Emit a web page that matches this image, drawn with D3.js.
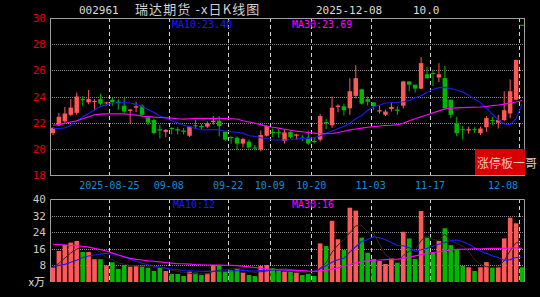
<!DOCTYPE html>
<html>
<head>
<meta charset="utf-8">
<script src="https://cdn.jsdelivr.net/npm/d3@7"></script>
<style>
  body { margin: 0; background: #000; }
  svg { display: block; }
  text { font-family: 'DejaVu Sans Mono', monospace; }
</style>
</head>
<body>
<div id="kline"></div>
<script>
var dates = [
  '2025-08-11', '2025-08-12', '2025-08-13', '2025-08-14', '2025-08-15', '2025-08-18', '2025-08-19', '2025-08-20',
  '2025-08-21', '2025-08-22', '2025-08-25', '2025-08-26', '2025-08-27', '2025-08-28', '2025-08-29', '2025-09-01',
  '2025-09-02', '2025-09-03', '2025-09-04', '2025-09-05', '2025-09-08', '2025-09-09', '2025-09-10', '2025-09-11',
  '2025-09-12', '2025-09-15', '2025-09-16', '2025-09-17', '2025-09-18', '2025-09-19', '2025-09-22', '2025-09-23',
  '2025-09-24', '2025-09-25', '2025-09-26', '2025-09-29', '2025-09-30', '2025-10-09', '2025-10-10', '2025-10-13',
  '2025-10-14', '2025-10-15', '2025-10-16', '2025-10-17', '2025-10-20', '2025-10-21', '2025-10-22', '2025-10-23',
  '2025-10-24', '2025-10-27', '2025-10-28', '2025-10-29', '2025-10-30', '2025-10-31', '2025-11-03', '2025-11-04',
  '2025-11-05', '2025-11-06', '2025-11-07', '2025-11-10', '2025-11-11', '2025-11-12', '2025-11-13', '2025-11-14',
  '2025-11-17', '2025-11-18', '2025-11-19', '2025-11-20', '2025-11-21', '2025-11-24', '2025-11-25', '2025-11-26',
  '2025-11-27', '2025-11-28', '2025-12-01', '2025-12-02', '2025-12-03', '2025-12-04', '2025-12-05', '2025-12-08'
]
var open = [
  21.2, 21.8, 22.1, 22.6, 22.75, 23.8, 23.55, 23.6, 23.8, 23.5, 23.75, 23.6, 23.3, 22.9, 23.15, 23.3,
  22.4, 22.2, 21.5, 21.3, 21.6, 21.5, 21.4, 21.0, 21.8, 21.75, 21.7, 22.05, 22.15, 21.3, 20.9, 20.85,
  20.4, 20.55, 20.1, 19.95, 21.0, 21.3, 21.3, 20.6, 21.3, 21.0, 20.85, 20.85, 20.6, 20.7, 22.05, 21.8,
  23.2, 23.25, 23.1, 24.05, 24.55, 23.8, 23.55, 22.85, 22.6, 23.05, 23.0, 23.3, 25.15, 24.9, 24.6, 25.7,
  25.8, 25.45, 25.4, 23.75, 21.95, 21.5, 21.4, 21.5, 21.2, 21.65, 22.2, 22.0, 22.2, 22.7, 23.75, 29.48
]
var high = [
  21.65, 22.75, 23.2, 23.8, 24.3, 24.05, 24.5, 23.8, 24.2, 23.6, 23.9, 23.8, 23.9, 23.05, 23.6, 23.4,
  22.5, 22.3, 21.85, 21.5, 21.65, 21.65, 21.6, 21.75, 22.2, 21.9, 22.1, 22.5, 22.5, 21.35, 20.95, 20.95,
  20.85, 20.7, 20.3, 21.4, 21.8, 21.55, 21.5, 21.5, 21.35, 21.15, 21.05, 21.4, 20.9, 22.65, 22.3, 24.0,
  23.4, 23.45, 25.4, 26.4, 24.6, 24.0, 23.55, 23.3, 23.0, 23.55, 23.25, 25.2, 25.15, 24.9, 27.0, 26.25,
  26.05, 26.55, 26.35, 23.75, 22.45, 21.75, 21.7, 21.65, 21.7, 22.5, 22.45, 22.6, 24.4, 25.3, 26.8, 29.48
]
var low = [
  21.05, 21.75, 22.0, 22.5, 22.6, 23.3, 23.4, 23.0, 23.3, 23.3, 23.3, 23.0, 22.7, 21.9, 22.8, 22.5,
  21.8, 21.1, 20.8, 20.9, 21.1, 21.1, 21.1, 20.9, 21.5, 21.5, 21.6, 21.85, 20.95, 20.6, 20.4, 19.9,
  20.1, 20.0, 19.9, 19.8, 20.95, 20.9, 20.85, 20.4, 20.8, 20.7, 20.6, 20.3, 20.4, 20.55, 21.5, 21.6,
  22.8, 22.55, 22.6, 23.85, 23.4, 23.3, 22.95, 22.7, 22.5, 22.85, 22.6, 23.1, 24.4, 24.3, 24.55, 25.35,
  24.8, 25.1, 23.0, 22.35, 20.95, 20.7, 21.15, 21.2, 21.05, 21.3, 21.8, 21.55, 22.1, 22.35, 23.7, 29.48
]
var close = [
  21.6, 22.45, 22.7, 23.15, 24.0, 23.75, 23.8, 23.65, 23.45, 23.55, 23.55, 23.5, 22.85, 23.0, 23.25, 22.6,
  22.0, 21.2, 21.4, 21.45, 21.5, 21.4, 21.3, 21.7, 21.75, 21.65, 21.95, 22.15, 21.75, 20.7, 20.85, 20.4,
  20.75, 20.1, 20.05, 21.05, 21.75, 21.2, 21.25, 21.25, 20.9, 21.1, 20.8, 20.4, 20.55, 22.5, 21.95, 23.15,
  23.3, 22.95, 24.4, 25.4, 23.45, 23.6, 23.25, 22.95, 22.85, 23.2, 22.9, 25.15, 24.9, 24.6, 26.55, 25.4,
  25.75, 25.7, 23.1, 22.6, 21.2, 21.45, 21.5, 21.45, 21.55, 22.35, 22.15, 22.2, 22.95, 24.4, 26.8, 29.48
]
var ma10 = [
  21.55, 21.55, 21.6, 21.8, 22.1, 22.45, 22.7, 22.97, 23.23, 23.36, 23.5, 23.5, 23.54, 23.5, 23.4, 23.23,
  23.0, 22.77, 22.5, 22.33, 22.15, 22.0, 21.8, 21.7, 21.56, 21.47, 21.45, 21.48, 21.45, 21.35, 21.3, 21.25,
  21.2, 21.0, 20.95, 20.85, 20.8, 20.7, 20.67, 20.67, 20.7, 20.75, 20.78, 20.8, 20.85, 21.0, 21.2, 21.35,
  21.55, 21.7, 21.95, 22.3, 22.55, 22.95, 23.2, 23.35, 23.5, 23.52, 23.55, 23.6, 23.7, 23.9, 24.05, 24.3,
  24.55, 24.68, 24.7, 24.6, 24.5, 24.35, 24.1, 23.8, 23.55, 23.1, 22.65, 22.2, 21.9, 21.85, 22.3, 23.4
]
var ma30 = [
  21.8, 21.85, 21.95, 22.05, 22.15, 22.3, 22.45, 22.6, 22.65, 22.67, 22.67, 22.67, 22.67, 22.62, 22.58, 22.5,
  22.46, 22.42, 22.4, 22.38, 22.35, 22.3, 22.27, 22.3, 22.33, 22.33, 22.33, 22.33, 22.33, 22.32, 22.3, 22.28,
  22.15, 22.05, 21.95, 21.85, 21.72, 21.65, 21.58, 21.5, 21.42, 21.35, 21.3, 21.25, 21.2, 21.15, 21.15, 21.17,
  21.25, 21.35, 21.45, 21.52, 21.58, 21.65, 21.7, 21.75, 21.78, 21.8, 21.85, 21.95, 22.15, 22.3, 22.45, 22.6,
  22.75, 22.9, 23.05, 23.1, 23.13, 23.15, 23.17, 23.18, 23.2, 23.23, 23.3, 23.35, 23.42, 23.5, 23.58, 23.69
]
var volume = [
  7, 15, 18, 19, 19.8, 14.5, 14.5, 11, 11, 8, 9.5, 6.3, 8.2, 7.4, 7.7, 8,
  6.9, 5.3, 6.9, 5.3, 3.9, 3.9, 2.9, 5, 4.5, 3.4, 4.2, 8.2, 8.2, 5, 5.8, 6.3,
  4.5, 3.4, 2.9, 7.7, 8.2, 6.6, 5.5, 5, 5, 4.5, 3.4, 3.9, 2.9, 18.6, 17.3, 29.5,
  20.6, 15.4, 35.8, 34.4, 21.4, 14.1, 11.1, 10.1, 8.7, 11.4, 9.3, 24.2, 21, 11.1, 34.2, 21.4,
  14.1, 19.8, 25.9, 17.8, 15.4, 7.7, 7.1, 5.3, 7.1, 9.6, 6.9, 7.1, 21, 31, 28.3, 7.1
]
var volMa5 = [
  7, 9, 11.5, 14, 15.8, 17.3, 17.2, 15.8, 14.2, 11.8, 10.8, 9.2, 8.6, 7.9, 7.8, 7.5,
  7.6, 7.1, 7.0, 6.5, 5.7, 5.1, 4.6, 4.2, 4.0, 3.9, 4.0, 5.1, 5.7, 5.8, 6.3, 6.7,
  6.0, 5.0, 4.6, 5.0, 5.3, 5.8, 6.2, 6.6, 6.1, 5.3, 4.7, 4.4, 3.9, 6.7, 9.2, 14.4,
  17.8, 20.3, 23.7, 27.1, 27.1, 24.2, 23.4, 18.2, 13.1, 11.1, 10.1, 12.7, 14.9, 15.4, 20.0, 22.4,
  20.4, 20.1, 23.1, 19.8, 18.6, 17.3, 14.8, 10.7, 8.5, 7.4, 7.2, 7.2, 10.3, 15.1, 18.9, 18.9
]
var volMa10 = [
  7.5, 8, 8.5, 9.5, 10.5, 11.8, 12.5, 13, 13.5, 13.8, 13.5, 13, 12, 11, 10, 9,
  8.3, 7.7, 7.2, 6.7, 6.3, 6.0, 5.5, 5.4, 5.3, 5.2, 5.1, 5.1, 5.2, 5.3, 5.3, 5.4,
  5.5, 5.4, 5.3, 5.5, 5.7, 5.8, 5.8, 5.7, 5.6, 5.5, 5.3, 5.2, 5.1, 6.3, 7.8, 9.5,
  10.7, 11.4, 14.5, 17, 19.5, 20.5, 21.8, 21.3, 20.4, 19, 17.6, 17.5, 16.5, 14.8, 15.5, 16.3,
  17.2, 18.2, 19, 20, 20.2, 19.5, 18.2, 16.5, 14.8, 13.8, 12.6, 11.8, 10.4, 10.8, 11.8, 12
]
var volMa30 = [
  18.2, 18, 17.8, 17.6, 17.4, 17.2, 16.8, 16.2, 15.6, 14.9, 14.0, 13.0, 12.2, 11.4, 10.9, 10.6,
  10.2, 10.0, 9.7, 9.4, 9.1, 8.8, 8.8, 8.6, 8.4, 8.3, 8.2, 8.2, 8.2, 8.1, 8.1, 7.9,
  7.6, 7.3, 7.0, 6.6, 6.3, 6.0, 5.9, 5.8, 5.7, 5.6, 5.5, 5.3, 5.2, 5.3, 5.6, 6.2,
  6.8, 7.6, 8.4, 9.2, 9.8, 10.2, 10.5, 10.6, 10.8, 10.9, 11.0, 11.4, 12.0, 12.6, 13.2, 13.8,
  14.2, 14.6, 15.0, 15.4, 15.7, 15.8, 15.9, 16.0, 16.0, 16.1, 16.2, 16.2, 16.3, 16.4, 16.5, 16.2
]
var priceTicks = [18, 20, 22, 24, 26, 28, 30]
var volTicks = [8, 16, 24, 32, 40]
var dateLabels = ['2025-08-25', '2025-09-08', '2025-09-22', '2025-10-09', '2025-10-20', '2025-11-03', '2025-11-17', '2025-12-08']

var RED = '#ff5858'
var GREEN = '#00b800'
var BLUE = '#1a1aff'
var MAGENTA = '#ff00ff'

var svg = d3
  .select('#kline')
  .append('svg')
  .attr('width', 540)
  .attr('height', 297)
  .style('background', '#000')

var x = d3.scaleBand().domain(dates).range([50, 525])
var y = d3.scaleLinear().domain([18, 30]).range([175, 18])
var yv = d3.scaleLinear().domain([0, 40]).range([282, 199])
var bw = x.bandwidth()
var cx = d => x(d) + bw / 2
var crisp = v => Math.round(v) + 0.5

var bars = dates.map((d, i) => ({
  date: d, o: open[i], h: high[i], l: low[i], c: close[i], v: volume[i]
}))

// grid
svg.append('g')
  .selectAll('line')
  .data(priceTicks.slice(1, -1))
  .enter()
  .append('line')
  .attr('x1', 50).attr('x2', 525)
  .attr('y1', d => crisp(y(d))).attr('y2', d => crisp(y(d)))
  .attr('stroke', '#8a8a8a')
  .attr('stroke-dasharray', '1,1')

svg.append('g')
  .selectAll('line')
  .data(volTicks.slice(0, -1))
  .enter()
  .append('line')
  .attr('x1', 50).attr('x2', 525)
  .attr('y1', d => crisp(yv(d))).attr('y2', d => crisp(yv(d)))
  .attr('stroke', '#8a8a8a')
  .attr('stroke-dasharray', '1,1')

var vgrid = svg.append('g')
dateLabels.forEach(d => {
  [[18, 175], [199, 282]].forEach(r => {
    vgrid.append('line')
      .attr('x1', crisp(x(d))).attr('x2', crisp(x(d)))
      .attr('y1', r[0]).attr('y2', r[1])
      .attr('stroke', '#d0d0d0')
      .attr('stroke-dasharray', '4,3')
  })
})

// frames
svg.append('rect')
  .attr('x', 50.5).attr('y', 18.5).attr('width', 474).attr('height', 157)
  .attr('fill', 'none').attr('stroke', '#a0a0a0')
svg.append('path')
  .attr('d', 'M50.5,282V199.5H524.5V282')
  .attr('fill', 'none').attr('stroke', '#a0a0a0')

// axes
var priceAxis = svg.append('g')
  .attr('transform', 'translate(50,0)')
  .call(d3.axisLeft(y).tickValues(priceTicks).tickSize(0).tickPadding(4))
priceAxis.select('.domain').remove()
priceAxis.selectAll('text')
  .attr('fill', '#e00000')
  .style('font-family', 'DejaVu Sans Mono')
  .style('font-size', '11px')

var volAxis = svg.append('g')
  .attr('transform', 'translate(50,0)')
  .call(d3.axisLeft(yv).tickValues(volTicks).tickSize(0).tickPadding(4))
volAxis.select('.domain').remove()
volAxis.selectAll('text')
  .attr('fill', '#c8c8c8')
  .style('font-family', 'DejaVu Sans Mono')
  .style('font-size', '11px')

svg.append('text')
  .attr('x', 45).attr('y', 286)
  .attr('text-anchor', 'end')
  .attr('fill', '#e0e0e0')
  .style('font-family', 'Noto Sans CJK SC')
  .style('font-size', '11px')
  .text('x万')

svg.append('g')
  .selectAll('text')
  .data(dateLabels)
  .enter()
  .append('text')
  .attr('x', (d, i) => i === dateLabels.length - 1 ? x(d) - 1 : x(d))
  .attr('y', 189)
  .attr('text-anchor', (d, i) => i === dateLabels.length - 1 ? 'end' : 'middle')
  .attr('fill', '#1c8ad8')
  .style('font-size', '10px')
  .text((d, i) => i === 0 ? d : d.slice(5))

// candles
var candles = svg.append('g')
candles.selectAll('line')
  .data(bars)
  .enter()
  .append('line')
  .attr('x1', d => cx(d.date)).attr('x2', d => cx(d.date))
  .attr('y1', d => y(d.h)).attr('y2', d => y(d.l))
  .attr('stroke', d => d.c > d.o ? RED : GREEN)
  .attr('stroke-width', 1)

candles.selectAll('rect')
  .data(bars)
  .enter()
  .append('rect')
  .attr('x', d => cx(d.date) - 2.25)
  .attr('width', 4.5)
  .attr('y', d => y(Math.max(d.o, d.c)))
  .attr('height', d => Math.max(1, Math.abs(y(d.o) - y(d.c))))
  .attr('fill', d => d.c > d.o ? RED : GREEN)

var priceLine = arr => d3.line().x((d, i) => cx(dates[i])).y(d => y(d))(arr)
svg.append('path').attr('d', priceLine(ma10)).attr('fill', 'none').attr('stroke', BLUE).attr('stroke-width', 1.1)
svg.append('path').attr('d', priceLine(ma30)).attr('fill', 'none').attr('stroke', MAGENTA).attr('stroke-width', 1.1)

// volume
svg.append('g')
  .selectAll('rect')
  .data(bars)
  .enter()
  .append('rect')
  .attr('x', d => cx(d.date) - 2.3)
  .attr('width', 4.6)
  .attr('y', d => yv(d.v))
  .attr('height', d => yv(0) - yv(d.v))
  .attr('fill', d => d.c > d.o ? RED : GREEN)

var volLine = arr => d3.line().x((d, i) => cx(dates[i])).y(d => yv(d))(arr)
svg.append('path').attr('d', volLine(volMa5)).attr('fill', 'none').attr('stroke', '#3a2020').attr('stroke-width', 1)
svg.append('path').attr('d', volLine(volMa10)).attr('fill', 'none').attr('stroke', BLUE).attr('stroke-width', 1.1)
svg.append('path').attr('d', volLine(volMa30)).attr('fill', 'none').attr('stroke', MAGENTA).attr('stroke-width', 1.1)

// legends
var legend = (tx, ty, color, str) => svg.append('text')
  .attr('x', tx).attr('y', ty)
  .attr('fill', color)
  .style('font-size', '10px')
  .text(str)
legend(172, 28, BLUE, 'MA10:' + ma10[ma10.length - 1].toFixed(2))
legend(292, 28, MAGENTA, 'MA30:' + ma30[ma30.length - 1].toFixed(2))
legend(173, 208, BLUE, 'MA10:' + Math.round(volMa10[volMa10.length - 1]))
legend(292, 208, MAGENTA, 'MA30:' + Math.round(volMa30[volMa30.length - 1]))

// title
svg.append('text').attr('x', 79).attr('y', 14).attr('fill', '#dcdcdc').style('font-size', '11px').text('002961')
svg.append('text').attr('x', 135).attr('y', 14).attr('fill', '#d0d0d0')
  .style('font-family', 'Noto Sans CJK SC').style('font-size', '13px')
  .style('letter-spacing', '1.1px').text('瑞达期货 -x日K线图')
svg.append('text').attr('x', 316).attr('y', 14).attr('fill', '#dcdcdc').style('font-size', '11px').text(dates[dates.length - 1])
svg.append('text').attr('x', 413).attr('y', 14).attr('fill', '#dcdcdc').style('font-size', '11px').text('10.0')

// watermark
svg.append('rect').attr('x', 475).attr('y', 149).attr('width', 50).attr('height', 26).attr('fill', '#d80000')
svg.append('text').attr('x', 477).attr('y', 168).attr('fill', '#f4c0c0')
  .style('font-family', 'Noto Sans CJK SC').style('font-size', '12px').text('涨停板一哥')
</script>
</body>
</html>
